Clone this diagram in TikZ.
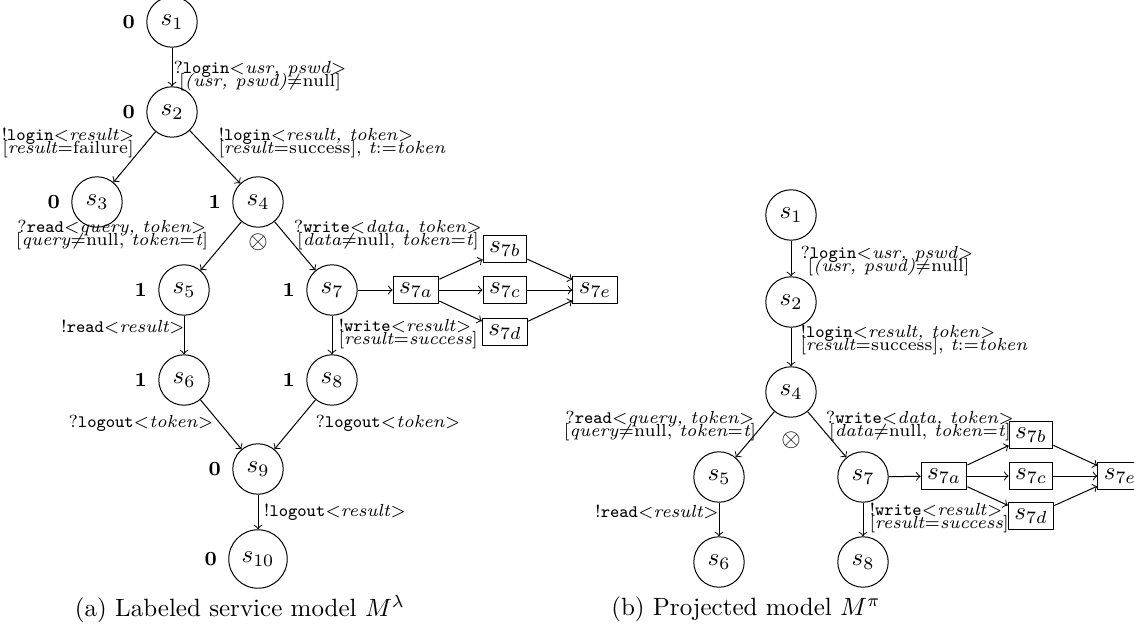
\documentclass[tikz,border=0pt]{standalone}
\usetikzlibrary{arrows}
\tikzset{
  st/.style={circle, draw, inner sep=3.333pt, font=\normalsize},
  bx/.style={rectangle, draw, inner sep=2.4pt, font=\normalsize},
  lbl/.style={font=\scriptsize, inner sep=0pt},
  num/.style={font=\footnotesize\bfseries},
  tr/.style={->},
  captxt/.style={font=\normalsize, inner sep=0pt}
}
\begin{document}
\begin{tikzpicture}[x=0.4pt,y=-0.4pt,>=to, label distance=1pt]
\clip (0,0) rectangle (1134,634);
% ---------------- left panel ----------------
\node[st,label={[num]left:0}] (a1) at (172,22) {$s_1$};
\node[st,label={[num]left:0}] (a2) at (172,112) {$s_2$};
\node[st,label={[num]left:0}] (a3) at (97,202) {$s_3$};
\node[st,label={[num]left:1}] (a4) at (258,202) {$s_4$};
\node[st,label={[num]left:1}] (a5) at (184,290) {$s_5$};
\node[st,label={[num]left:1}] (a7) at (332,290) {$s_7$};
\node[st,label={[num]left:1}] (a6) at (184,380) {$s_6$};
\node[st,label={[num]left:1}] (a8) at (332,380) {$s_8$};
\node[st,label={[num]left:0}] (a9) at (258,469) {$s_9$};
\node[st,label={[num]left:0}] (a10) at (258,559) {$s_{10}$};
\node[bx] (a7a) at (416,290) {$s_{7a}$};
\node[bx] (a7b) at (505,249) {$s_{7b}$};
\node[bx] (a7c) at (505,290) {$s_{7c}$};
\node[bx] (a7d) at (505,332) {$s_{7d}$};
\node[bx] (a7e) at (595,290) {$s_{7e}$};

\draw[tr] (a1) -- (a2);
\draw[tr] (a2) -- (a3);
\draw[tr] (a2) -- (a4);
\draw[tr] (a4) -- (a5);
\draw[tr] (a4) -- (a7);
\draw[tr] (a5) -- (a6);
\draw[tr] (a7) -- (a8);
\draw[tr] (a6) -- (a9);
\draw[tr] (a8) -- (a9);
\draw[tr] (a9) -- (a10);
\draw[tr] (a7) -- (a7a);
\draw[tr] (a7a) -- (a7b);
\draw[tr] (a7a) -- (a7c);
\draw[tr] (a7a) -- (a7d);
\draw[tr] (a7b) -- (a7e);
\draw[tr] (a7c) -- (a7e);
\draw[tr] (a7d) -- (a7e);

\node[lbl,align=center,anchor=west] (la12) at (173,76) {?\texttt{login}$<$\textit{usr, pswd}$>$\\[-2.8pt][\textit{(usr, pswd)}$\neq$null]};
\node[lbl,align=center] (la23) at (68,143) {!\texttt{login}$<$\textit{result}$>$\\[-2.8pt][\textit{result}$=$failure]};
\node[lbl,align=left,anchor=west] (la24) at (218,143) {!\texttt{login}$<$\textit{result, token}$>$\\[-2.8pt][\textit{result}$=$success], \textit{t}:=\textit{token}};
\node[lbl,align=center] (la45) at (112,235) {?\texttt{read}$<$\textit{query, token}$>$\\[-2.8pt][\textit{query}$\neq$null, \textit{token}$=$\textit{t}]};
\node[lbl,align=center] (la47) at (388,235) {?\texttt{write}$<$\textit{data, token}$>$\\[-2.8pt][\textit{data}$\neq$null, \textit{token}$=$\textit{t}]};
\node[inner sep=0pt] (lax) at (258,242) {$\otimes$};
\node[lbl] (la56) at (123,327) {!\texttt{read}$<$\textit{result}$>$};
\node[lbl,align=left,anchor=west] (la78) at (338,334) {!\texttt{write}$<$\textit{result}$>$\\[-2.8pt][\textit{result}$=$\textit{success}]};
\node[lbl] (la69) at (141,423) {?\texttt{logout}$<$\textit{token}$>$};
\node[lbl] (la89) at (388,423) {?\texttt{logout}$<$\textit{token}$>$};
\node[lbl] (la910) at (335,512) {!\texttt{logout}$<$\textit{result}$>$};
\node[captxt] (capa) at (240,609) {(a) Labeled service model $M^\lambda$};

% ---------------- right panel ----------------
\node[st] (b1) at (791,215) {$s_1$};
\node[st] (b2) at (791,302) {$s_2$};
\node[st] (b4) at (791,392) {$s_4$};
\node[st] (b5) at (719,477) {$s_5$};
\node[st] (b7) at (863,477) {$s_7$};
\node[st] (b6) at (719,562) {$s_6$};
\node[st] (b8) at (863,562) {$s_8$};
\node[bx] (b7a) at (944,476) {$s_{7a}$};
\node[bx] (b7b) at (1031,435) {$s_{7b}$};
\node[bx] (b7c) at (1031,476) {$s_{7c}$};
\node[bx] (b7d) at (1031,516) {$s_{7d}$};
\node[bx] (b7e) at (1120,476) {$s_{7e}$};

\draw[tr] (b1) -- (b2);
\draw[tr] (b2) -- (b4);
\draw[tr] (b4) -- (b5);
\draw[tr] (b4) -- (b7);
\draw[tr] (b5) -- (b6);
\draw[tr] (b7) -- (b8);
\draw[tr] (b7) -- (b7a);
\draw[tr] (b7a) -- (b7b);
\draw[tr] (b7a) -- (b7c);
\draw[tr] (b7a) -- (b7d);
\draw[tr] (b7b) -- (b7e);
\draw[tr] (b7c) -- (b7e);
\draw[tr] (b7d) -- (b7e);

\node[lbl,align=left,anchor=west] (lb12) at (800,261) {?\texttt{login}$<$\textit{usr, pswd}$>$\\[-2.8pt]\hspace{2.8pt}[\textit{(usr, pswd)}$\neq$null]};
\node[lbl,align=left,anchor=west] (lb24) at (800,340) {!\texttt{login}$<$\textit{result, token}$>$\\[-2.8pt][\textit{result}$=$success], \textit{t}:=\textit{token}};
\node[lbl,align=center] (lb45) at (660,426) {?\texttt{read}$<$\textit{query, token}$>$\\[-2.8pt][\textit{query}$\neq$null, \textit{token}$=$\textit{t}]};
\node[lbl,align=center] (lb47) at (920,426) {?\texttt{write}$<$\textit{data, token}$>$\\[-2.8pt][\textit{data}$\neq$null, \textit{token}$=$\textit{t}]};
\node[inner sep=0pt] (lbx) at (791,440) {$\otimes$};
\node[lbl] (lb56) at (657,512) {!\texttt{read}$<$\textit{result}$>$};
\node[lbl,align=left,anchor=west] (lb78) at (869,518) {!\texttt{write}$<$\textit{result}$>$\\[-2.8pt][\textit{result}$=$\textit{success}]};
\node[captxt] (capb) at (746,609) {(b) Projected model $M^\pi$};
\end{tikzpicture}
\end{document}
